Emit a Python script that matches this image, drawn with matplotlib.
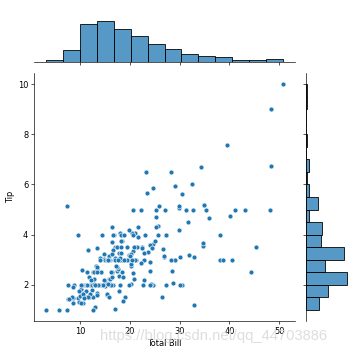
"""
Joint scatter of tip against total bill from the restaurant tips data,
with the two marginal histograms drawn above and to the right.
"""
import numpy as np
import matplotlib
matplotlib.use("Agg")
import matplotlib.pyplot as plt
from matplotlib.colors import to_rgba

total_bill = [
    16.99, 10.34, 21.01, 23.68, 24.59, 25.29, 8.77, 26.88, 15.04, 14.78,
    10.27, 35.26, 15.42, 18.43, 14.83, 21.58, 10.33, 16.29, 16.97, 20.65,
    17.92, 20.29, 15.77, 39.42, 19.82, 17.81, 13.37, 12.69, 21.70, 19.65,
    9.55, 18.35, 15.06, 20.69, 17.78, 24.06, 16.31, 16.93, 18.69, 31.27,
    16.04, 17.46, 13.94, 9.68, 30.40, 18.29, 22.23, 32.40, 28.55, 18.04,
    12.54, 10.29, 34.81, 9.94, 25.56, 19.49, 38.01, 26.41, 11.24, 48.27,
    20.29, 13.81, 11.02, 18.29, 17.59, 20.08, 16.45, 3.07, 20.23, 15.01,
    12.02, 17.07, 26.86, 25.28, 14.73, 10.51, 17.92, 27.20, 22.76, 17.29,
    19.44, 16.66, 10.07, 32.68, 15.98, 34.83, 13.03, 18.28, 24.71, 21.16,
    28.97, 22.49, 5.75, 16.32, 22.75, 40.17, 27.28, 12.03, 21.01, 12.46,
    11.35, 15.38, 44.30, 22.42, 20.92, 15.36, 20.49, 25.21, 18.24, 14.31,
    14.00, 7.25, 38.07, 23.95, 25.71, 17.31, 29.93, 10.65, 12.43, 24.08,
    11.69, 13.42, 14.26, 15.95, 12.48, 29.80, 8.52, 14.52, 11.38, 22.82,
    19.08, 20.27, 11.17, 12.26, 18.26, 8.51, 10.33, 14.15, 16.00, 13.16,
    17.47, 34.30, 41.19, 27.05, 16.43, 8.35, 18.64, 11.87, 9.78, 7.51,
    14.07, 13.13, 17.26, 24.55, 19.77, 29.85, 48.17, 25.00, 13.39, 16.49,
    21.50, 12.66, 16.21, 13.81, 17.51, 24.52, 20.76, 31.71, 10.59, 10.63,
    50.81, 15.81, 7.25, 31.85, 16.82, 32.90, 17.89, 14.48, 9.60, 34.63,
    34.65, 23.33, 45.35, 23.17, 40.55, 20.69, 20.90, 30.46, 18.15, 23.10,
    15.69, 19.81, 28.44, 15.48, 16.58, 7.56, 10.34, 43.11, 13.00, 13.51,
    18.71, 12.74, 13.00, 16.40, 20.53, 16.47, 26.59, 38.73, 24.27, 12.76,
    30.06, 25.89, 48.33, 13.27, 28.17, 12.90, 28.15, 11.59, 7.74, 30.14,
    12.16, 13.42, 8.58, 15.98, 13.42, 16.27, 10.09, 20.45, 13.28, 22.12,
    24.01, 15.69, 11.61, 10.77, 15.53, 10.07, 12.60, 32.83, 35.83, 29.03,
    27.18, 22.67, 17.82, 18.78,
]

tip = [
    1.01, 1.66, 3.50, 3.31, 3.61, 4.71, 2.00, 3.12, 1.96, 3.23,
    1.71, 5.00, 1.57, 3.00, 3.02, 3.92, 1.67, 3.71, 3.50, 3.35,
    4.08, 2.75, 2.23, 7.58, 3.18, 2.34, 2.00, 2.00, 4.30, 3.00,
    1.45, 2.50, 3.00, 2.45, 3.27, 3.60, 2.00, 3.07, 2.31, 5.00,
    2.24, 2.54, 3.06, 1.32, 5.60, 3.00, 5.00, 6.00, 2.05, 3.00,
    2.50, 2.60, 5.20, 1.56, 4.34, 3.51, 3.00, 1.50, 1.76, 6.73,
    3.21, 2.00, 1.98, 3.76, 2.64, 3.15, 2.47, 1.00, 2.01, 2.09,
    1.97, 3.00, 3.14, 5.00, 2.20, 1.25, 3.08, 4.00, 3.00, 2.71,
    3.00, 3.40, 1.83, 5.00, 2.03, 5.17, 2.00, 4.00, 5.85, 3.00,
    3.00, 3.50, 1.00, 4.30, 3.25, 4.73, 4.00, 1.50, 3.00, 1.50,
    2.50, 3.00, 2.50, 3.48, 4.08, 1.64, 4.06, 4.29, 3.76, 4.00,
    3.00, 1.00, 4.00, 2.55, 4.00, 3.50, 5.07, 1.50, 1.80, 2.92,
    2.31, 1.68, 2.50, 2.00, 2.52, 4.20, 1.48, 2.00, 2.00, 2.18,
    1.50, 2.83, 1.50, 2.00, 3.25, 1.25, 2.00, 2.00, 2.00, 2.75,
    3.50, 6.70, 5.00, 5.00, 2.30, 1.50, 1.36, 1.63, 1.73, 2.00,
    2.50, 2.00, 2.74, 2.00, 2.00, 5.14, 5.00, 3.75, 2.61, 2.00,
    3.50, 2.50, 2.00, 2.00, 3.00, 3.48, 2.24, 4.50, 1.61, 2.00,
    10.00, 3.16, 5.15, 3.18, 4.00, 3.11, 2.00, 2.00, 4.00, 3.55,
    3.68, 5.65, 3.50, 6.50, 3.00, 5.00, 3.50, 2.00, 3.50, 4.00,
    1.50, 4.19, 2.56, 2.02, 4.00, 1.44, 2.00, 5.00, 2.00, 2.00,
    4.00, 2.01, 2.00, 2.50, 4.00, 3.23, 3.41, 3.00, 2.03, 2.23,
    2.00, 5.16, 9.00, 2.50, 6.50, 1.10, 3.00, 1.50, 1.44, 3.09,
    2.20, 3.48, 1.92, 3.00, 1.58, 2.50, 2.00, 3.00, 2.72, 2.88,
    2.00, 3.00, 3.39, 1.47, 3.00, 1.25, 1.00, 1.17, 4.67, 5.92,
    2.00, 2.00, 1.75, 3.00,
]

x_ticks = [10, 20, 30, 40, 50]
y_ticks = [2, 4, 6, 8, 10]

DPI = 59
W, H = 354, 355
fig = plt.figure(figsize=(W / DPI, H / DPI), dpi=DPI)


def px_axes(left, top, right, bottom):
    # axes from pixel box (origin top-left)
    return fig.add_axes([left / W, 1 - bottom / H, (right - left) / W, (bottom - top) / H])


ax_joint = px_axes(34, 73, 295, 321)
ax_top = px_axes(34, 19, 295, 62)
ax_right = px_axes(306, 73, 349, 321)

blue = "#1f77b4"
face = to_rgba(blue, 0.75)

ax_joint.scatter(total_bill, tip, s=36, color=blue, edgecolor="white", linewidth=0.75)
ax_joint.set_xlabel("Total Bill")
ax_joint.set_ylabel("Tip")
ax_joint.set_xticks(x_ticks)
ax_joint.set_yticks(y_ticks)

ax_top.hist(total_bill, bins="auto", facecolor=face, edgecolor="black", linewidth=1)
ax_right.hist(tip, bins="auto", facecolor=face, edgecolor="black", linewidth=1,
              orientation="horizontal")

ax_top.set_xlim(ax_joint.get_xlim())
ax_right.set_ylim(ax_joint.get_ylim())
ax_top.set_xticks(x_ticks)
ax_right.set_yticks(y_ticks)
ax_top.tick_params(labelbottom=False, left=False, labelleft=False)
ax_right.tick_params(labelleft=False, bottom=False, labelbottom=False)

for side in ["top", "right"]:
    ax_joint.spines[side].set_visible(False)
for side in ["top", "right", "left"]:
    ax_top.spines[side].set_visible(False)
for side in ["top", "right", "bottom"]:
    ax_right.spines[side].set_visible(False)

# faint watermark from the source image (it sits over the tick labels there too)
fig.text(100 / W, 1 - 336 / H, "https://blog.csdn.net/qq_44703886", fontsize=18,
         family="Liberation Sans", color="#dadada", va="center", ha="left", alpha=0.9)

fig.savefig("out.png", dpi=DPI)
